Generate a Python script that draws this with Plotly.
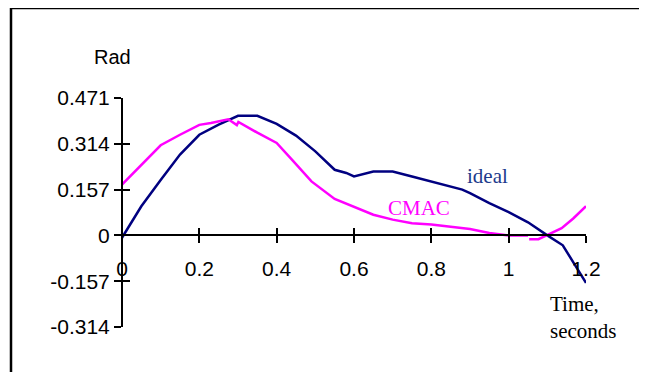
import plotly.graph_objects as go

# ---- data ----
ideal_t = [0, 0.05, 0.1, 0.15, 0.2, 0.25, 0.3, 0.35, 0.4, 0.45, 0.5, 0.53, 0.55,
           0.58, 0.6, 0.65, 0.7, 0.75, 0.8, 0.85, 0.88, 0.9, 0.95, 1.0, 1.05,
           1.1, 1.14, 1.2]
ideal_v = [-0.008, 0.1, 0.19, 0.277, 0.345, 0.38, 0.41, 0.41, 0.382, 0.342, 0.288,
           0.25, 0.225, 0.214, 0.202, 0.219, 0.219, 0.202, 0.185, 0.166, 0.157,
           0.145, 0.111, 0.08, 0.045, 0.0, -0.034, -0.163]

cmac_t = [0, 0.05, 0.1, 0.15, 0.2, 0.23, 0.275, 0.297, 0.301, 0.35, 0.4, 0.44,
          0.49, 0.55, 0.6, 0.65, 0.7, 0.75, 0.8, 0.85, 0.9, 0.95, 1.0, 1.05,
          None,
          1.053, 1.077, 1.102, 1.137, 1.167, 1.2]
cmac_v = [0.174, 0.24, 0.309, 0.345, 0.379, 0.385, 0.398, 0.378, 0.389, 0.352,
          0.317, 0.259, 0.185, 0.125, 0.097, 0.071, 0.054, 0.042, 0.037, 0.029,
          0.022, 0.008, 0.0, 0.0,
          None,
          -0.013, -0.013, 0.003, 0.025, 0.058, 0.1]

x_ticks = [0, 0.2, 0.4, 0.6, 0.8, 1.0, 1.2]
x_tick_labels = ["0", "0.2", "0.4", "0.6", "0.8", "1", "1.2"]
y_ticks = [-0.314, -0.157, 0, 0.157, 0.314, 0.471]
y_tick_labels = ["-0.314", "-0.157", "0", "0.157", "0.314", "0.471"]

X_RANGE = [0, 1.2]
Y_RANGE = [-0.314, 0.471]

NAVY = "#000080"
MAGENTA = "#FF00FF"
SANS = "Liberation Sans, Arial, sans-serif"
SERIF = "Liberation Serif, Times New Roman, serif"
SANS_SIZE = 20
TICK_SIZE = 21
SERIF_SIZE = 21

fig = go.Figure()
fig.add_trace(go.Scatter(x=ideal_t, y=ideal_v, mode="lines",
                         line=dict(color=NAVY, width=2.5), showlegend=False))
fig.add_trace(go.Scatter(x=cmac_t, y=cmac_v, mode="lines", connectgaps=False,
                         line=dict(color=MAGENTA, width=2.5), showlegend=False))
# dummy trace for overlay axes (cross ticks)
fig.add_trace(go.Scatter(x=[None], y=[None], xaxis="x2", yaxis="y2",
                         showlegend=False, hoverinfo="skip"))

zero_frac = -Y_RANGE[0] / (Y_RANGE[1] - Y_RANGE[0])

common_x = dict(range=X_RANGE, tickvals=x_ticks, showgrid=False, zeroline=False,
                ticklen=7, tickwidth=2, tickcolor="black")
common_y = dict(range=Y_RANGE, tickvals=y_ticks, showgrid=False, zeroline=False,
                ticklen=7, tickwidth=2, tickcolor="black")

# page body has an 8px margin: figure is 639x364 placed at (8,8)
fig.update_layout(
    width=639, height=364,
    margin=dict(l=114, r=61, t=90, b=45),
    paper_bgcolor="white", plot_bgcolor="white",
    font=dict(family=SANS, size=SANS_SIZE, color="black"),
    xaxis=dict(**common_x, ticktext=x_tick_labels, anchor="free", position=zero_frac,
               ticks="outside", showline=True, linecolor="black", linewidth=2,
               ticklabelstandoff=7, tickfont=dict(family=SANS, size=TICK_SIZE)),
    yaxis=dict(**common_y, ticktext=y_tick_labels, anchor="free", position=0,
               ticks="outside", showline=True, linecolor="black", linewidth=2,
               ticklabelstandoff=0, tickfont=dict(family=SANS, size=TICK_SIZE)),
    xaxis2=dict(**common_x, overlaying="x", anchor="free", position=zero_frac,
                ticks="inside", showline=False, showticklabels=False),
    yaxis2=dict(**common_y, overlaying="y", anchor="free", position=0,
                ticks="inside", showline=False, showticklabels=False),
)

# outer frame (runs off the right and bottom edges)
fig.add_shape(type="rect", xref="paper", yref="paper",
              x0=(11 - 122) / 464, x1=2.0, y0=-1.0, y1=(327 - 8) / 229,
              line=dict(color="black", width=2.5), fillcolor="rgba(0,0,0,0)",
              layer="above")

fig.add_annotation(text="Rad", xref="paper", yref="paper",
                   x=(112 - 122) / 464, y=(327 - 57) / 229, showarrow=False,
                   xanchor="center", yanchor="middle",
                   font=dict(family=SANS, size=SANS_SIZE, color="black"))
fig.add_annotation(text="ideal", x=0.944, y=0.203, showarrow=False,
                   xanchor="center", yanchor="middle",
                   font=dict(family=SERIF, size=SERIF_SIZE, color="#1C3A8C"))
fig.add_annotation(text="CMAC", x=0.768, y=0.093, showarrow=False,
                   xanchor="center", yanchor="middle",
                   font=dict(family=SERIF, size=SERIF_SIZE, color=MAGENTA))
fig.add_annotation(text="Time,<br>seconds", xref="paper", yref="paper",
                   x=(548 - 122) / 464, y=(327 - 317) / 229, showarrow=False,
                   xanchor="left", yanchor="middle", align="left",
                   font=dict(family=SERIF, size=SERIF_SIZE, color="black"))

fig.write_html("out.html")
